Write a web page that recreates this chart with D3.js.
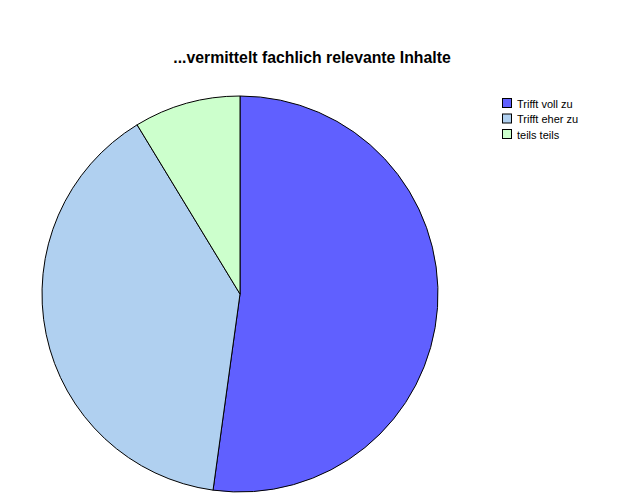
<!doctype html>
<html>
<head>
<meta charset="UTF-8">
<script src="https://cdnjs.cloudflare.com/ajax/libs/d3/7.8.5/d3.min.js"></script>
<style>
  body { margin: 0; background: #fff; }
  text { font-family: "Liberation Sans", Arial, sans-serif; }
</style>
</head>
<body>
<svg id="chart" width="624" height="500"></svg>
<script>
var categories = ["Trifft voll zu", "Trifft eher zu", "teils teils"];
var counts = [12, 9, 2];
var colors = ["#6060FF", "#B0D0F0", "#CCFFCC"];
var title = "...vermittelt fachlich relevante Inhalte";

var svg = d3.select("#chart");
var cx = 240, cy = 294, r = 198;

// title
svg.append("text")
  .attr("x", 312)
  .attr("y", 63)
  .attr("text-anchor", "middle")
  .style("font-size", "15.8px")
  .style("font-weight", "bold")
  .text(title);

var pie = d3.pie().sort(null).value(d => d);
var arc = d3.arc().innerRadius(0).outerRadius(r);

svg.append("g")
  .attr("transform", "translate(" + cx + "," + cy + ")")
  .selectAll("path")
  .data(pie(counts))
  .enter()
  .append("path")
    .attr("d", arc)
    .attr("fill", (d, i) => colors[i])
    .attr("stroke", "#000")
    .attr("stroke-width", 1);

// legend
var legend = svg.append("g").attr("transform", "translate(502,98)");
var item = legend.selectAll("g")
  .data(categories)
  .enter()
  .append("g")
    .attr("transform", (d, i) => "translate(0," + (i * 15.5) + ")");
item.append("rect")
  .attr("x", 0.5).attr("y", 0.5)
  .attr("width", 9).attr("height", 9)
  .attr("fill", (d, i) => colors[i])
  .attr("stroke", "#000");
item.append("text")
  .attr("x", 15)
  .attr("y", 9.5)
  .style("font-size", "11px")
  .text(d => d);
</script>
</body>
</html>
